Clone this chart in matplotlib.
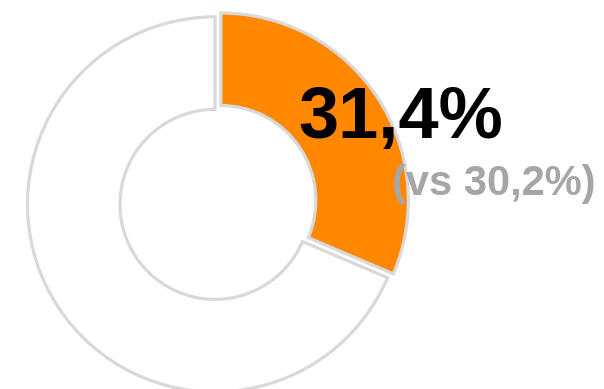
import matplotlib.pyplot as plt

# share shown in the donut
value = 31.4
rest = 100 - value
label_main = '31,4%'
label_vs = '(vs 30,2%)'

W, H = 604, 389
fig = plt.figure(figsize=(W / 100, H / 100), dpi=100)
ax = fig.add_axes([0, 0, 1, 1])

cx, cy, r = 217.5, H - 202.7, 187.5
ax.pie([value, rest], colors=['#FF8800', 'white'], startangle=90, counterclock=False,
       center=(cx, cy), radius=r, explode=[4, 3],
       wedgeprops=dict(width=92.5, edgecolor='#d9d9d9', linewidth=2.3))

ax.set_xlim(0, W)
ax.set_ylim(0, H)
ax.set_aspect('equal')
ax.axis('off')

ax.text(401, H - 119, label_main, fontsize=52, fontweight='bold', family='Liberation Sans',
        color='black', ha='center', va='center')
ax.text(494, H - 184, label_vs, fontsize=30, fontweight='bold', family='Liberation Sans',
        color='#a6a6a6', ha='center', va='center')

fig.savefig('out.png', dpi=100)
